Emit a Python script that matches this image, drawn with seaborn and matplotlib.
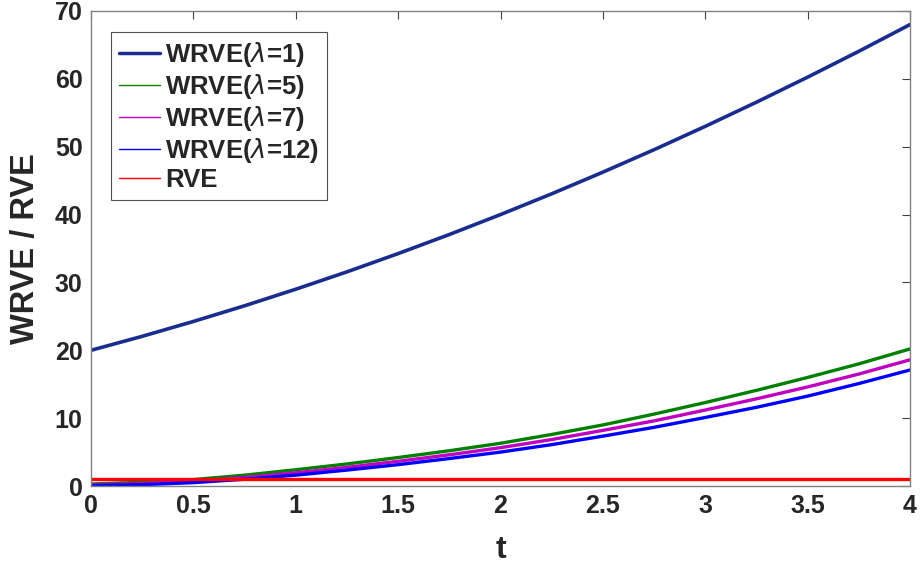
import matplotlib
matplotlib.use("Agg")
import matplotlib.pyplot as plt
import seaborn as sns
import pandas as pd

t = [0, 0.25, 0.5, 0.75, 1, 1.25, 1.5, 1.75, 2, 2.25, 2.5, 2.75, 3, 3.25, 3.5, 3.75, 4]
wrve_l1 = [20, 22.06, 24.25, 26.56, 29, 31.56, 34.25, 37.06, 40, 43.06, 46.25, 49.56, 53, 56.56, 60.25, 64.06, 68]
wrve_l5 = [0.3, 0.55, 0.95, 1.6, 2.4, 3.25, 4.2, 5.2, 6.3, 7.6, 9.0, 10.6, 12.3, 14.1, 16.0, 18.0, 20.2]
wrve_l7 = [0.15, 0.35, 0.7, 1.25, 1.95, 2.75, 3.65, 4.6, 5.65, 6.85, 8.2, 9.6, 11.2, 12.85, 14.6, 16.5, 18.6]
wrve_l12 = [0.05, 0.2, 0.5, 1.0, 1.6, 2.35, 3.15, 4.05, 5.0, 6.1, 7.35, 8.65, 10.1, 11.6, 13.25, 15.1, 17.1]
rve = [1] * 17

labels = ["WRVE($\\lambda$=1)", "WRVE($\\lambda$=5)", "WRVE($\\lambda$=7)", "WRVE($\\lambda$=12)", "RVE"]
series = [wrve_l1, wrve_l5, wrve_l7, wrve_l12, rve]
colors = ["#1a2d8f", "#008000", "#c000c0", "#0000ff", "#ff0000"]
widths = [2.6, 2.4, 2.4, 2.4, 2.4]

sns.set_theme(style="white")
plt.rcParams['font.family'] = ['Liberation Sans', 'DejaVu Sans']
plt.rcParams['mathtext.fontset'] = 'custom'
plt.rcParams['mathtext.it'] = 'DejaVu Sans:italic'

fig = plt.figure(figsize=(9.22, 5.72), dpi=100)
ax = fig.add_axes([0.0987, 0.1503, 0.8883, 0.8305])

for lab, ys, c, w in zip(labels, series, colors, widths):
    df = pd.DataFrame({"t": t, "v": ys})
    sns.lineplot(data=df, x="t", y="v", ax=ax, color=c, linewidth=w, label=lab)

ax.set_xlim(0, 4)
ax.set_ylim(0, 70)
ax.set_xticks([0, 0.5, 1, 1.5, 2, 2.5, 3, 3.5, 4])
ax.set_xticklabels(["0", "0.5", "1", "1.5", "2", "2.5", "3", "3.5", "4"])
ax.set_yticks([0, 10, 20, 30, 40, 50, 60, 70])
ax.tick_params(axis='both', which='both', direction='in', length=6, width=0.8,
               color='#404040', labelsize=18, top=True, right=True, pad=6)
for lbl in ax.get_xticklabels() + ax.get_yticklabels():
    lbl.set_fontweight('bold')
    lbl.set_color('#262626')
for sp in ax.spines.values():
    sp.set_color('#808080')
    sp.set_linewidth(1.0)
ax.set_xlabel("t", fontsize=23, fontweight='bold', color='#262626', labelpad=12)
ax.set_ylabel("WRVE / RVE", fontsize=23.5, fontweight='bold', color='#262626', labelpad=10)

leg = ax.legend(loc='upper left', bbox_to_anchor=(0.0244, 0.956), frameon=True,
                fancybox=False, edgecolor='#262626', fontsize=18.5, handlelength=1.6,
                handletextpad=0.2, labelspacing=0.12, borderpad=0.3, borderaxespad=0)
leg.get_frame().set_linewidth(0.8)
for txt in leg.get_texts():
    txt.set_fontweight('bold')
for h, w in zip(leg.get_lines(), [2.5, 1, 1, 1, 1]):
    h.set_linewidth(w)

fig.savefig("out.png", dpi=100)
